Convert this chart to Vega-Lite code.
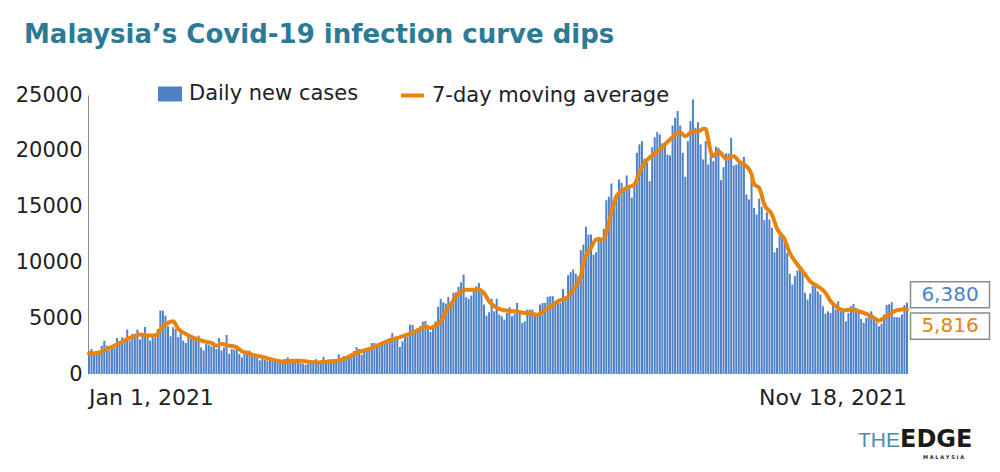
{
"$schema": "https://vega.github.io/schema/vega-lite/v6.json",
"width": 820,
"height": 279,
"autosize": {"type": "none"},
"padding": {"left": 88, "top": 95, "right": 92, "bottom": 98},
"background": "white",
"config": {"view": {"stroke": null}, "font": "DejaVu Sans"},
"title": {"text": "Malaysia’s Covid-19 infection curve dips", "anchor": "start", "frame": "group", "font": "DejaVu Sans", "fontWeight": "bold", "fontSize": 26, "color": "#2d7a95", "dx": -64, "offset": 13, "baseline": "alphabetic"},
"datasets": {
"daily": [
{"date":"2021-01-01","cases":2030},{"date":"2021-01-02","cases":2240},{"date":"2021-01-03","cases":1940},{"date":"2021-01-04","cases":2030},{"date":"2021-01-05","cases":2090},{"date":"2021-01-06","cases":2540},{"date":"2021-01-07","cases":2990},{"date":"2021-01-08","cases":2540},{"date":"2021-01-09","cases":2120},{"date":"2021-01-10","cases":2330},{"date":"2021-01-11","cases":2330},{"date":"2021-01-12","cases":3230},{"date":"2021-01-13","cases":2930},{"date":"2021-01-14","cases":3290},{"date":"2021-01-15","cases":3140},{"date":"2021-01-16","cases":3980},{"date":"2021-01-17","cases":2990},{"date":"2021-01-18","cases":3590},{"date":"2021-01-19","cases":3440},{"date":"2021-01-20","cases":3980},{"date":"2021-01-21","cases":3080},{"date":"2021-01-22","cases":3590},{"date":"2021-01-23","cases":4220},{"date":"2021-01-24","cases":3320},{"date":"2021-01-25","cases":2990},{"date":"2021-01-26","cases":3320},{"date":"2021-01-27","cases":3230},{"date":"2021-01-28","cases":4040},{"date":"2021-01-29","cases":5680},{"date":"2021-01-30","cases":5680},{"date":"2021-01-31","cases":5230},
{"date":"2021-02-01","cases":4280},{"date":"2021-02-02","cases":3380},{"date":"2021-02-03","cases":4190},{"date":"2021-02-04","cases":4040},{"date":"2021-02-05","cases":3320},{"date":"2021-02-06","cases":3740},{"date":"2021-02-07","cases":2990},{"date":"2021-02-08","cases":2780},{"date":"2021-02-09","cases":3440},{"date":"2021-02-10","cases":3140},{"date":"2021-02-11","cases":3110},{"date":"2021-02-12","cases":3260},{"date":"2021-02-13","cases":3440},{"date":"2021-02-14","cases":2390},{"date":"2021-02-15","cases":2120},{"date":"2021-02-16","cases":2690},{"date":"2021-02-17","cases":2630},{"date":"2021-02-18","cases":2480},{"date":"2021-02-19","cases":2870},{"date":"2021-02-20","cases":2240},{"date":"2021-02-21","cases":3230},{"date":"2021-02-22","cases":2120},{"date":"2021-02-23","cases":2390},{"date":"2021-02-24","cases":3500},{"date":"2021-02-25","cases":1820},{"date":"2021-02-26","cases":2240},{"date":"2021-02-27","cases":2180},{"date":"2021-02-28","cases":2390},
{"date":"2021-03-01","cases":1790},{"date":"2021-03-02","cases":1490},{"date":"2021-03-03","cases":1970},{"date":"2021-03-04","cases":2090},{"date":"2021-03-05","cases":2090},{"date":"2021-03-06","cases":1580},{"date":"2021-03-07","cases":1580},{"date":"2021-03-08","cases":1430},{"date":"2021-03-09","cases":1220},{"date":"2021-03-10","cases":1340},{"date":"2021-03-11","cases":1280},{"date":"2021-03-12","cases":1190},{"date":"2021-03-13","cases":1220},{"date":"2021-03-14","cases":1130},{"date":"2021-03-15","cases":1080},{"date":"2021-03-16","cases":1050},{"date":"2021-03-17","cases":990},{"date":"2021-03-18","cases":990},{"date":"2021-03-19","cases":1350},{"date":"2021-03-20","cases":1490},{"date":"2021-03-21","cases":1050},{"date":"2021-03-22","cases":1050},{"date":"2021-03-23","cases":1050},{"date":"2021-03-24","cases":1130},{"date":"2021-03-25","cases":990},{"date":"2021-03-26","cases":930},{"date":"2021-03-27","cases":840},{"date":"2021-03-28","cases":930},{"date":"2021-03-29","cases":1140},{"date":"2021-03-30","cases":1100},{"date":"2021-03-31","cases":1330},
{"date":"2021-04-01","cases":1100},{"date":"2021-04-02","cases":1190},{"date":"2021-04-03","cases":1550},{"date":"2021-04-04","cases":1190},{"date":"2021-04-05","cases":1290},{"date":"2021-04-06","cases":1290},{"date":"2021-04-07","cases":1190},{"date":"2021-04-08","cases":1290},{"date":"2021-04-09","cases":1760},{"date":"2021-04-10","cases":1290},{"date":"2021-04-11","cases":1610},{"date":"2021-04-12","cases":1490},{"date":"2021-04-13","cases":1700},{"date":"2021-04-14","cases":1850},{"date":"2021-04-15","cases":2060},{"date":"2021-04-16","cases":2420},{"date":"2021-04-17","cases":2240},{"date":"2021-04-18","cases":1730},{"date":"2021-04-19","cases":2120},{"date":"2021-04-20","cases":2240},{"date":"2021-04-21","cases":2330},{"date":"2021-04-22","cases":2780},{"date":"2021-04-23","cases":2780},{"date":"2021-04-24","cases":2600},{"date":"2021-04-25","cases":2600},{"date":"2021-04-26","cases":2720},{"date":"2021-04-27","cases":2930},{"date":"2021-04-28","cases":3080},{"date":"2021-04-29","cases":3230},{"date":"2021-04-30","cases":3680},
{"date":"2021-05-01","cases":2990},{"date":"2021-05-02","cases":3320},{"date":"2021-05-03","cases":2420},{"date":"2021-05-04","cases":2930},{"date":"2021-05-05","cases":3620},{"date":"2021-05-06","cases":3320},{"date":"2021-05-07","cases":4420},{"date":"2021-05-08","cases":4390},{"date":"2021-05-09","cases":3830},{"date":"2021-05-10","cases":4100},{"date":"2021-05-11","cases":4270},{"date":"2021-05-12","cases":4690},{"date":"2021-05-13","cases":4750},{"date":"2021-05-14","cases":4270},{"date":"2021-05-15","cases":3770},{"date":"2021-05-16","cases":4270},{"date":"2021-05-17","cases":4720},{"date":"2021-05-18","cases":6030},{"date":"2021-05-19","cases":6730},{"date":"2021-05-20","cases":6430},{"date":"2021-05-21","cases":6310},{"date":"2021-05-22","cases":6910},{"date":"2021-05-23","cases":6430},{"date":"2021-05-24","cases":7270},{"date":"2021-05-25","cases":7320},{"date":"2021-05-26","cases":7810},{"date":"2021-05-27","cases":8220},{"date":"2021-05-28","cases":8910},{"date":"2021-05-29","cases":6870},{"date":"2021-05-30","cases":6730},{"date":"2021-05-31","cases":7030},
{"date":"2021-06-01","cases":7500},{"date":"2021-06-02","cases":7860},{"date":"2021-06-03","cases":8160},{"date":"2021-06-04","cases":7410},{"date":"2021-06-05","cases":6220},{"date":"2021-06-06","cases":5230},{"date":"2021-06-07","cases":5530},{"date":"2021-06-08","cases":6730},{"date":"2021-06-09","cases":5620},{"date":"2021-06-10","cases":6730},{"date":"2021-06-11","cases":5320},{"date":"2021-06-12","cases":5170},{"date":"2021-06-13","cases":4870},{"date":"2021-06-14","cases":5470},{"date":"2021-06-15","cases":5980},{"date":"2021-06-16","cases":5170},{"date":"2021-06-17","cases":5410},{"date":"2021-06-18","cases":6370},{"date":"2021-06-19","cases":5620},{"date":"2021-06-20","cases":4580},{"date":"2021-06-21","cases":4720},{"date":"2021-06-22","cases":5770},{"date":"2021-06-23","cases":5770},{"date":"2021-06-24","cases":5770},{"date":"2021-06-25","cases":5320},{"date":"2021-06-26","cases":5470},{"date":"2021-06-27","cases":6220},{"date":"2021-06-28","cases":6370},{"date":"2021-06-29","cases":6370},{"date":"2021-06-30","cases":6910},
{"date":"2021-07-01","cases":6970},{"date":"2021-07-02","cases":6970},{"date":"2021-07-03","cases":6520},{"date":"2021-07-04","cases":6420},{"date":"2021-07-05","cases":6370},{"date":"2021-07-06","cases":7620},{"date":"2021-07-07","cases":6970},{"date":"2021-07-08","cases":8850},{"date":"2021-07-09","cases":9120},{"date":"2021-07-10","cases":9360},{"date":"2021-07-11","cases":9000},{"date":"2021-07-12","cases":8760},{"date":"2021-07-13","cases":11090},{"date":"2021-07-14","cases":11600},{"date":"2021-07-15","cases":13190},{"date":"2021-07-16","cases":12500},{"date":"2021-07-17","cases":12500},{"date":"2021-07-18","cases":10700},{"date":"2021-07-19","cases":10910},{"date":"2021-07-20","cases":12290},{"date":"2021-07-21","cases":12110},{"date":"2021-07-22","cases":13010},{"date":"2021-07-23","cases":15570},{"date":"2021-07-24","cases":15880},{"date":"2021-07-25","cases":17070},{"date":"2021-07-26","cases":15100},{"date":"2021-07-27","cases":16080},{"date":"2021-07-28","cases":17430},{"date":"2021-07-29","cases":17130},{"date":"2021-07-30","cases":16600},{"date":"2021-07-31","cases":17790},
{"date":"2021-08-01","cases":16600},{"date":"2021-08-02","cases":15790},{"date":"2021-08-03","cases":16980},{"date":"2021-08-04","cases":19820},{"date":"2021-08-05","cases":20570},{"date":"2021-08-06","cases":20870},{"date":"2021-08-07","cases":19290},{"date":"2021-08-08","cases":18930},{"date":"2021-08-09","cases":17280},{"date":"2021-08-10","cases":20320},{"date":"2021-08-11","cases":21220},{"date":"2021-08-12","cases":21670},{"date":"2021-08-13","cases":21470},{"date":"2021-08-14","cases":20660},{"date":"2021-08-15","cases":20780},{"date":"2021-08-16","cases":19670},{"date":"2021-08-17","cases":19580},{"date":"2021-08-18","cases":22270},{"date":"2021-08-19","cases":22960},{"date":"2021-08-20","cases":23560},{"date":"2021-08-21","cases":22270},{"date":"2021-08-22","cases":19820},{"date":"2021-08-23","cases":17670},{"date":"2021-08-24","cases":20870},{"date":"2021-08-25","cases":22660},{"date":"2021-08-26","cases":24600},{"date":"2021-08-27","cases":22060},{"date":"2021-08-28","cases":22570},{"date":"2021-08-29","cases":20570},{"date":"2021-08-30","cases":19220},{"date":"2021-08-31","cases":20870},
{"date":"2021-09-01","cases":18770},{"date":"2021-09-02","cases":19670},{"date":"2021-09-03","cases":19070},{"date":"2021-09-04","cases":20360},{"date":"2021-09-05","cases":20270},{"date":"2021-09-06","cases":17370},{"date":"2021-09-07","cases":18530},{"date":"2021-09-08","cases":19760},{"date":"2021-09-09","cases":19760},{"date":"2021-09-10","cases":21170},{"date":"2021-09-11","cases":18680},{"date":"2021-09-12","cases":18770},{"date":"2021-09-13","cases":19160},{"date":"2021-09-14","cases":18770},{"date":"2021-09-15","cases":19460},{"date":"2021-09-16","cases":16080},{"date":"2021-09-17","cases":15640},{"date":"2021-09-18","cases":17670},{"date":"2021-09-19","cases":14890},{"date":"2021-09-20","cases":14290},{"date":"2021-09-21","cases":15700},{"date":"2021-09-22","cases":14980},{"date":"2021-09-23","cases":13780},{"date":"2021-09-24","cases":14500},{"date":"2021-09-25","cases":13840},{"date":"2021-09-26","cases":13100},{"date":"2021-09-27","cases":10910},{"date":"2021-09-28","cases":11300},{"date":"2021-09-29","cases":12410},{"date":"2021-09-30","cases":12290},
{"date":"2021-10-01","cases":11750},{"date":"2021-10-02","cases":10850},{"date":"2021-10-03","cases":9000},{"date":"2021-10-04","cases":8010},{"date":"2021-10-05","cases":8760},{"date":"2021-10-06","cases":9300},{"date":"2021-10-07","cases":9420},{"date":"2021-10-08","cases":9120},{"date":"2021-10-09","cases":7270},{"date":"2021-10-10","cases":6670},{"date":"2021-10-11","cases":7210},{"date":"2021-10-12","cases":7920},{"date":"2021-10-13","cases":7860},{"date":"2021-10-14","cases":7410},{"date":"2021-10-15","cases":7120},{"date":"2021-10-16","cases":6070},{"date":"2021-10-17","cases":5410},{"date":"2021-10-18","cases":5620},{"date":"2021-10-19","cases":5470},{"date":"2021-10-20","cases":6130},{"date":"2021-10-21","cases":5770},{"date":"2021-10-22","cases":6520},{"date":"2021-10-23","cases":5620},{"date":"2021-10-24","cases":5620},{"date":"2021-10-25","cases":4720},{"date":"2021-10-26","cases":5470},{"date":"2021-10-27","cases":6070},{"date":"2021-10-28","cases":6280},{"date":"2021-10-29","cases":5920},{"date":"2021-10-30","cases":5530},{"date":"2021-10-31","cases":4930},
{"date":"2021-11-01","cases":4580},{"date":"2021-11-02","cases":5020},{"date":"2021-11-03","cases":5230},{"date":"2021-11-04","cases":5620},{"date":"2021-11-05","cases":5020},{"date":"2021-11-06","cases":4630},{"date":"2021-11-07","cases":4270},{"date":"2021-11-08","cases":4510},{"date":"2021-11-09","cases":5320},{"date":"2021-11-10","cases":6190},{"date":"2021-11-11","cases":6250},{"date":"2021-11-12","cases":6430},{"date":"2021-11-13","cases":5120},{"date":"2021-11-14","cases":5080},{"date":"2021-11-15","cases":5080},{"date":"2021-11-16","cases":5320},{"date":"2021-11-17","cases":6190},{"date":"2021-11-18","cases":6380}
],
"ma": [
{"date":"2021-01-01","avg":1820},{"date":"2021-01-05","avg":1940},{"date":"2021-01-09","avg":2330},{"date":"2021-01-13","avg":2780},{"date":"2021-01-17","avg":3230},{"date":"2021-01-21","avg":3530},{"date":"2021-01-25","avg":3440},{"date":"2021-01-27","avg":3440},{"date":"2021-01-30","avg":4270},{"date":"2021-02-01","avg":4580},{"date":"2021-02-03","avg":4720},{"date":"2021-02-05","avg":4040},{"date":"2021-02-08","avg":3590},{"date":"2021-02-11","avg":3230},{"date":"2021-02-15","avg":2930},{"date":"2021-02-18","avg":2780},{"date":"2021-02-20","avg":2540},{"date":"2021-02-22","avg":2690},{"date":"2021-02-25","avg":2540},{"date":"2021-02-28","avg":2390},
{"date":"2021-03-02","avg":2030},{"date":"2021-03-04","avg":1890},{"date":"2021-03-06","avg":1730},{"date":"2021-03-10","avg":1530},{"date":"2021-03-14","avg":1290},{"date":"2021-03-18","avg":1130},{"date":"2021-03-22","avg":1190},{"date":"2021-03-25","avg":1190},{"date":"2021-03-28","avg":1100},{"date":"2021-04-01","avg":1040},{"date":"2021-04-05","avg":1130},{"date":"2021-04-09","avg":1220},{"date":"2021-04-12","avg":1440},{"date":"2021-04-16","avg":1890},{"date":"2021-04-20","avg":2180},{"date":"2021-04-24","avg":2540},{"date":"2021-04-28","avg":2930},
{"date":"2021-05-02","avg":3230},{"date":"2021-05-06","avg":3530},{"date":"2021-05-10","avg":3920},{"date":"2021-05-13","avg":4270},{"date":"2021-05-15","avg":4120},{"date":"2021-05-17","avg":4350},{"date":"2021-05-19","avg":4700},{"date":"2021-05-21","avg":5590},{"date":"2021-05-23","avg":6220},{"date":"2021-05-25","avg":6970},{"date":"2021-05-28","avg":7500},{"date":"2021-05-29","avg":7560},
{"date":"2021-06-03","avg":7560},{"date":"2021-06-05","avg":7270},{"date":"2021-06-07","avg":6520},{"date":"2021-06-10","avg":5920},{"date":"2021-06-13","avg":5710},{"date":"2021-06-17","avg":5620},{"date":"2021-06-21","avg":5470},{"date":"2021-06-23","avg":5400},{"date":"2021-06-26","avg":5320},{"date":"2021-06-29","avg":5770},
{"date":"2021-07-01","avg":6000},{"date":"2021-07-04","avg":6520},{"date":"2021-07-08","avg":6900},{"date":"2021-07-09","avg":7270},{"date":"2021-07-13","avg":8760},{"date":"2021-07-14","avg":9960},{"date":"2021-07-15","avg":10600},{"date":"2021-07-17","avg":11300},{"date":"2021-07-19","avg":12050},{"date":"2021-07-22","avg":12050},{"date":"2021-07-23","avg":12700},{"date":"2021-07-25","avg":14440},{"date":"2021-07-27","avg":15930},{"date":"2021-07-29","avg":16380},{"date":"2021-07-31","avg":16680},
{"date":"2021-08-03","avg":16980},{"date":"2021-08-05","avg":18030},{"date":"2021-08-07","avg":18930},{"date":"2021-08-09","avg":19400},{"date":"2021-08-13","avg":20100},{"date":"2021-08-17","avg":21020},{"date":"2021-08-21","avg":21670},{"date":"2021-08-23","avg":21310},{"date":"2021-08-26","avg":21760},{"date":"2021-08-28","avg":21720},{"date":"2021-08-30","avg":21980},{"date":"2021-08-31","avg":21950},
{"date":"2021-09-01","avg":21020},{"date":"2021-09-02","avg":19900},{"date":"2021-09-03","avg":19520},{"date":"2021-09-05","avg":19970},{"date":"2021-09-08","avg":19290},{"date":"2021-09-11","avg":19520},{"date":"2021-09-13","avg":19070},{"date":"2021-09-16","avg":18620},{"date":"2021-09-18","avg":17900},{"date":"2021-09-19","avg":17000},{"date":"2021-09-21","avg":16680},{"date":"2021-09-23","avg":15190},{"date":"2021-09-26","avg":14290},{"date":"2021-09-28","avg":13010},
{"date":"2021-10-01","avg":12050},{"date":"2021-10-03","avg":10850},{"date":"2021-10-06","avg":9810},{"date":"2021-10-09","avg":8910},{"date":"2021-10-11","avg":8310},{"date":"2021-10-14","avg":7860},{"date":"2021-10-17","avg":7270},{"date":"2021-10-19","avg":6520},{"date":"2021-10-22","avg":5920},{"date":"2021-10-24","avg":5710},{"date":"2021-10-27","avg":5770},{"date":"2021-10-30","avg":5620},
{"date":"2021-11-01","avg":5470},{"date":"2021-11-04","avg":5170},{"date":"2021-11-07","avg":4780},{"date":"2021-11-09","avg":5020},{"date":"2021-11-12","avg":5470},{"date":"2021-11-14","avg":5710},{"date":"2021-11-18","avg":5816}
],
"notes": [
{"date":"2021-11-18","value":6380,"label":"6,380","kind":"daily"},
{"date":"2021-11-18","value":5816,"label":"5,816","kind":"avg"},
{"date":"2021-11-18","value":0,"label":"THE","kind":"logo1"},
{"date":"2021-11-18","value":0,"label":"EDGE","kind":"logo2"},
{"date":"2021-11-18","value":0,"label":"M A L A Y S I A","kind":"logo3"}
]
},
"layer": [
{"data": {"name": "daily"},
 "mark": {"type": "bar"},
 "encoding": {
  "x": {"field": "date", "type": "ordinal", "scale": {"paddingInner": 0.22, "paddingOuter": 0},
        "axis": {"title": null, "values": ["2021-01-01", "2021-11-18"], "labelExpr": "datum.value == '2021-01-01' ? 'Jan 1, 2021' : 'Nov 18, 2021'", "labelFlush": 4, "labelAngle": 0, "domain": false, "ticks": false, "grid": false, "labelFont": "DejaVu Sans", "labelFontSize": 22, "labelColor": "#222222", "labelPadding": 13, "labelLimit": 300}},
  "y": {"field": "cases", "type": "quantitative", "scale": {"domain": [0, 25000], "nice": false},
        "axis": {"title": null, "values": [0, 5000, 10000, 15000, 20000, 25000], "format": "d", "ticks": false, "grid": false, "domainColor": "#8a8a8a", "domainWidth": 1, "labelFont": "DejaVu Sans", "labelFontSize": 21, "labelColor": "#222222", "labelPadding": 6}},
  "fill": {"datum": "Daily new cases", "scale": {"range": ["#4f81c6"]},
           "legend": {"orient": "none", "legendX": 70, "legendY": -13, "direction": "horizontal", "title": null, "symbolType": "M-1,-0.625H1V0.625H-1Z", "symbolSize": 576, "symbolStrokeWidth": 0, "labelFont": "DejaVu Sans", "labelFontSize": 21, "labelColor": "#222222", "labelOffset": 7, "labelLimit": 400, "padding": 0}}
 }},
{"data": {"name": "ma"},
 "mark": {"type": "line", "strokeWidth": 4, "interpolate": "monotone", "strokeCap": "round", "strokeJoin": "round"},
 "encoding": {
  "x": {"field": "date", "type": "ordinal", "axis": {"title": null}},
  "y": {"field": "avg", "type": "quantitative", "axis": {"title": null}},
  "stroke": {"datum": "7-day moving average", "scale": {"range": ["#e8830c"]},
             "legend": {"orient": "none", "legendX": 311, "legendY": -13, "direction": "horizontal", "title": null, "symbolType": "stroke", "symbolSize": 529, "symbolStrokeWidth": 4, "labelFont": "DejaVu Sans", "labelFontSize": 21, "labelColor": "#222222", "labelOffset": 6, "labelLimit": 400, "padding": 0}}
 }},
{"data": {"name": "notes"}, "transform": [{"filter": "datum.kind == 'daily'"}],
 "mark": {"type": "point", "shape": "M-1,-0.33H1V0.33H-1Z", "size": 6241, "filled": true, "fill": "white", "stroke": "#8c8c8c", "strokeWidth": 1.5, "opacity": 1, "xOffset": 43, "yOffset": -8},
 "encoding": {"x": {"field": "date", "type": "ordinal", "axis": {"title": null}}, "y": {"field": "value", "type": "quantitative", "axis": {"title": null}}}},
{"data": {"name": "notes"}, "transform": [{"filter": "datum.kind == 'avg'"}],
 "mark": {"type": "point", "shape": "M-1,-0.33H1V0.33H-1Z", "size": 6241, "filled": true, "fill": "white", "stroke": "#8c8c8c", "strokeWidth": 1.5, "opacity": 1, "xOffset": 43, "yOffset": 17},
 "encoding": {"x": {"field": "date", "type": "ordinal", "axis": {"title": null}}, "y": {"field": "value", "type": "quantitative", "axis": {"title": null}}}},
{"data": {"name": "notes"}, "transform": [{"filter": "datum.kind == 'daily'"}],
 "mark": {"type": "text", "dx": 43, "dy": -8, "align": "center", "baseline": "middle", "font": "DejaVu Sans", "fontSize": 20, "fill": "#4f81c6"},
 "encoding": {"x": {"field": "date", "type": "ordinal", "axis": {"title": null}}, "y": {"field": "value", "type": "quantitative", "axis": {"title": null}}, "text": {"field": "label"}}},
{"data": {"name": "notes"}, "transform": [{"filter": "datum.kind == 'avg'"}],
 "mark": {"type": "text", "dx": 43, "dy": 17, "align": "center", "baseline": "middle", "font": "DejaVu Sans", "fontSize": 20, "fill": "#e8830c"},
 "encoding": {"x": {"field": "date", "type": "ordinal", "axis": {"title": null}}, "y": {"field": "value", "type": "quantitative", "axis": {"title": null}}, "text": {"field": "label"}}},
{"data": {"name": "notes"}, "transform": [{"filter": "datum.kind == 'logo1'"}],
 "mark": {"type": "text", "dx": -7, "dy": 73, "align": "right", "baseline": "alphabetic", "font": "Liberation Sans", "fontSize": 21, "fill": "#4a8fab"},
 "encoding": {"x": {"field": "date", "type": "ordinal", "axis": {"title": null}}, "y": {"field": "value", "type": "quantitative", "axis": {"title": null}}, "text": {"field": "label"}}},
{"data": {"name": "notes"}, "transform": [{"filter": "datum.kind == 'logo2'"}],
 "mark": {"type": "text", "dx": -7, "dy": 73, "align": "left", "baseline": "alphabetic", "font": "DejaVu Sans", "fontWeight": "bold", "fontSize": 24, "fill": "#1a1a1a"},
 "encoding": {"x": {"field": "date", "type": "ordinal", "axis": {"title": null}}, "y": {"field": "value", "type": "quantitative", "axis": {"title": null}}, "text": {"field": "label"}}},
{"data": {"name": "notes"}, "transform": [{"filter": "datum.kind == 'logo3'"}],
 "mark": {"type": "text", "dx": 16, "dy": 85, "align": "left", "baseline": "alphabetic", "font": "DejaVu Sans", "fontWeight": "bold", "fontSize": 5, "fill": "#1a1a1a"},
 "encoding": {"x": {"field": "date", "type": "ordinal", "axis": {"title": null}}, "y": {"field": "value", "type": "quantitative", "axis": {"title": null}}, "text": {"field": "label"}}}
]
}
